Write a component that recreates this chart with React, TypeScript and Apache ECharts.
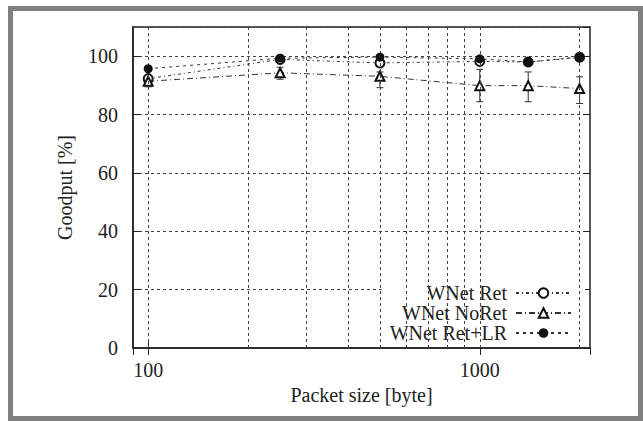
import React, { useEffect, useRef } from "react";
import * as echarts from "echarts";

const packetSizes = [100, 250, 500, 1000, 1400, 2000];
const wnetRet = [92.3, 98.9, 97.7, 98.2, 98.0, 99.6];
const wnetNoRet = [91.4, 94.3, 93.1, 89.9, 89.9, 88.9];
const wnetNoRetLow = [89.5, 92.1, 89.2, 84.4, 84.4, 83.8];
const wnetNoRetHigh = [92.1, 96.2, 94.6, 95.5, 94.6, 92.9];
const wnetRetLR = [95.7, 99.3, 99.7, 99.1, 98.0, 99.7];
const xGridValues = [100, 200, 300, 400, 500, 600, 700, 800, 900, 1000, 2000];
const seriesNames = ["WNet Ret", "WNet NoRet", "WNet Ret+LR"];

const FONT = "'Liberation Serif', 'Times New Roman', serif";
const INK = "#222";
const LINE = "#333";
const FS = 20;

export default function App() {
  const ref = useRef<HTMLDivElement>(null);
  useEffect(() => {
    if (!ref.current) return;
    const chart = echarts.init(ref.current, undefined, { renderer: "svg" });
    const pair = (vals: number[]) => packetSizes.map((x, i) => [x, vals[i]]);
    const errData = packetSizes.map((x, i) => [x, wnetNoRetLow[i], wnetNoRetHigh[i]]);
    const option: any = {
      animation: false,
      backgroundColor: "#fff",
      textStyle: { fontFamily: FONT, color: INK },
      graphic: [
        {
          type: "rect",
          shape: { x: 10.5, y: 8.5, width: 630, height: 410 },
          style: { fill: "none", stroke: "#808080", lineWidth: 5 },
          silent: true,
        },
      ],
      grid: {
        left: 133,
        right: 53,
        top: 27,
        bottom: 73,
        show: true,
        borderColor: INK,
        borderWidth: 1.5,
        backgroundColor: "transparent",
      },
      legend: {
        data: seriesNames,
        orient: "vertical",
        align: "right",
        right: 58,
        top: 280,
        itemWidth: 55,
        itemHeight: 12,
        itemGap: 0,
        padding: [3, 13, 3, 8],
        backgroundColor: "#fff",
        textStyle: { fontFamily: FONT, fontSize: FS, lineHeight: 20, color: INK, padding: [0, 4, 0, 0] },
        selectedMode: false,
      },
      xAxis: [
        {
          type: "log",
          logBase: 10,
          min: 90,
          max: 2150,
          name: "Packet size [byte]",
          nameLocation: "middle",
          nameGap: 36,
          nameTextStyle: { fontFamily: FONT, fontSize: FS, color: INK },
          axisLine: { lineStyle: { color: INK, width: 1.5 } },
          axisTick: { inside: true, length: 7, lineStyle: { color: INK } },
          axisLabel: {
            fontFamily: FONT,
            fontSize: FS,
            color: INK,
            margin: 12,
            showMinLabel: false,
            showMaxLabel: false,
            formatter: (v: number) => String(Math.round(v)),
          },
          splitLine: { show: false },
        },
        {
          type: "log",
          logBase: 10,
          min: 90,
          max: 2150,
          position: "top",
          axisLine: { show: false },
          axisTick: { inside: true, length: 7, lineStyle: { color: INK } },
          axisLabel: { show: false },
          splitLine: { show: false },
        },
      ],
      yAxis: [
        {
          type: "value",
          min: 0,
          max: 110,
          interval: 20,
          name: "Goodput [%]",
          nameLocation: "middle",
          nameGap: 58,
          nameTextStyle: { fontFamily: FONT, fontSize: FS, color: INK },
          axisLine: { show: true, lineStyle: { color: INK, width: 1.5 } },
          axisTick: { show: true, inside: true, length: 7, lineStyle: { color: INK } },
          axisLabel: {
            fontFamily: FONT,
            fontSize: FS,
            color: INK,
            margin: 15,
            showMaxLabel: false,
          },
          splitLine: { show: true, lineStyle: { color: "#444", type: [3, 3], width: 1 } },
        },
        {
          type: "value",
          min: 0,
          max: 110,
          interval: 20,
          position: "right",
          axisLine: { show: false },
          axisTick: { show: true, inside: true, length: 7, lineStyle: { color: INK } },
          axisLabel: { show: false },
          splitLine: { show: false },
        },
      ],
      series: [
        {
          name: "gridX",
          type: "line",
          data: [],
          silent: true,
          markLine: {
            silent: true,
            symbol: "none",
            label: { show: false },
            lineStyle: { color: "#444", type: [3, 3], width: 1 },
            data: xGridValues.map((v) => ({ xAxis: v })),
          },
        },
        {
          name: "noRetErr",
          type: "custom",
          data: errData,
          encode: { x: 0, y: [1, 2] },
          z: 3,
          renderItem: (params: any, api: any) => {
            const x = api.value(0);
            const lo = api.coord([x, api.value(1)]);
            const hi = api.coord([x, api.value(2)]);
            const cw = 3.5;
            const st = { stroke: LINE, lineWidth: 1 };
            return {
              type: "group",
              children: [
                { type: "line", shape: { x1: lo[0], y1: lo[1], x2: hi[0], y2: hi[1] }, style: st },
                { type: "line", shape: { x1: lo[0] - cw, y1: lo[1], x2: lo[0] + cw, y2: lo[1] }, style: st },
                { type: "line", shape: { x1: hi[0] - cw, y1: hi[1], x2: hi[0] + cw, y2: hi[1] }, style: st },
              ],
            };
          },
        },
        {
          name: seriesNames[0],
          type: "line",
          data: pair(wnetRet),
          symbol: "emptyCircle",
          symbolSize: 9,
          z: 4,
          lineStyle: { color: LINE, width: 1, type: [3, 3, 1, 3] },
          itemStyle: { color: "#111", borderColor: "#111", borderWidth: 1 },
        },
        {
          name: seriesNames[1],
          type: "line",
          data: pair(wnetNoRet),
          symbol: "emptyTriangle",
          symbolSize: 9,
          z: 4,
          lineStyle: { color: LINE, width: 1, type: [6, 3, 1, 3] },
          itemStyle: { color: "#111", borderColor: "#111", borderWidth: 1 },
        },
        {
          name: seriesNames[2],
          type: "line",
          data: pair(wnetRetLR),
          symbol: "circle",
          symbolSize: 9,
          z: 5,
          lineStyle: { color: LINE, width: 1, type: [3, 4] },
          itemStyle: { color: "#111" },
        },
      ],
    };
    chart.setOption(option);
    return () => chart.dispose();
  }, []);
  return (
    <div
      ref={ref}
      style={{ position: "absolute", left: 0, top: 0, width: 643, height: 421, background: "#fff" }}
    />
  );
}
